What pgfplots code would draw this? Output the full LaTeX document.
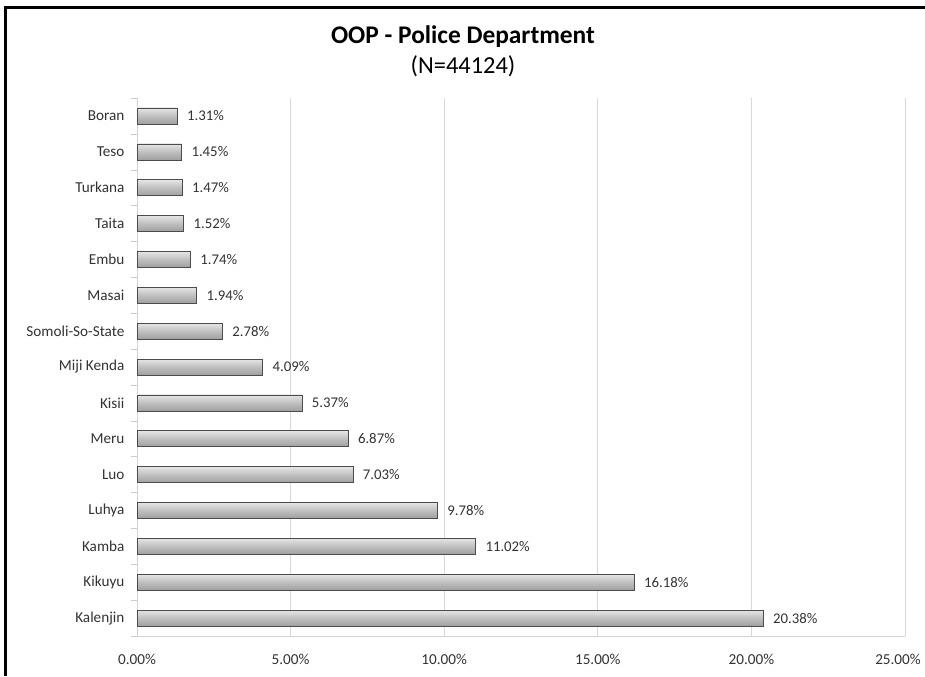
\documentclass[border=0pt]{standalone}
\usepackage{pgfplots}
\pgfplotsset{compat=1.18}
\usepackage{fontspec}
\setmainfont{Carlito}
\begin{document}
\begin{tikzpicture}[x=0.5pt,y=0.5pt]
\fill[white] (0,0) rectangle (925,676);
\draw[line width=1.5pt,black] (5,0) -- (5,668) -- (925,668);
\node[font=\fontsize{12.7}{14}\selectfont\bfseries] at (463,639) {OOP - Police Department};
\node[font=\fontsize{12.2}{14}\selectfont] at (463,610) {(N=44124)};
\begin{axis}[
  at={(68.5pt,20pt)}, anchor=south west,
  scale only axis, width=384pt, height=269pt,
  xmin=0, xmax=25, ymin=-0.5, ymax=14.5,
  axis x line=bottom, axis y line=left,
  axis line style={draw=gray!35, -},
  xtick={0,5,10,15,20,25},
  xticklabels={0.00\%,5.00\%,10.00\%,15.00\%,20.00\%,\hspace*{-7pt}25.00\%},
  xmajorgrids, grid style={draw=gray!30, line width=0.4pt},
  major x tick style={draw=none},
  ytick={0,...,14},
  yticklabels={Kalenjin,Kikuyu,Kamba,Luhya,Luo,Meru,Kisii,Miji Kenda,Somoli-So-State,Masai,Embu,Taita,Turkana,Teso,Boran},
  major y tick style={draw=none},
  minor ytick={-0.5,0.5,...,14.5},
  minor y tick style={draw=gray!40},
  minor tick length=3pt,
  tick align=outside,
  ticklabel style={font=\fontsize{7.6}{9}\selectfont, text=black!80},
  yticklabel style={xshift=1.5pt},
  xticklabel style={yshift=-1.5pt},
  /pgf/number format/assume math mode=true,
  nodes near coords={\pgfmathprintnumber[fixed,fixed zerofill,precision=2,assume math mode=true]{\pgfplotspointmeta}\%},
  nodes near coords style={font=\fontsize{7.4}{9}\selectfont, text=black!80, anchor=west, xshift=1.5pt},
  point meta=x,
  clip=false,
  cylbar/.style={xbar, bar width=8pt, draw=gray!60!black, line width=0.3pt,
    top color=gray!20, bottom color=gray!75, middle color=gray!50},
]
\addplot[cylbar] coordinates {(20.38,0)};
\addplot[cylbar] coordinates {(16.18,1)};
\addplot[cylbar] coordinates {(11.02,2)};
\addplot[cylbar] coordinates {(9.78,3)};
\addplot[cylbar] coordinates {(7.03,4)};
\addplot[cylbar] coordinates {(6.87,5)};
\addplot[cylbar] coordinates {(5.37,6)};
\addplot[cylbar] coordinates {(4.09,7)};
\addplot[cylbar] coordinates {(2.78,8)};
\addplot[cylbar] coordinates {(1.94,9)};
\addplot[cylbar] coordinates {(1.74,10)};
\addplot[cylbar] coordinates {(1.52,11)};
\addplot[cylbar] coordinates {(1.47,12)};
\addplot[cylbar] coordinates {(1.45,13)};
\addplot[cylbar] coordinates {(1.31,14)};
\end{axis}
\pgfresetboundingbox
\path (0,0) rectangle (925,676);
\end{tikzpicture}
\end{document}
